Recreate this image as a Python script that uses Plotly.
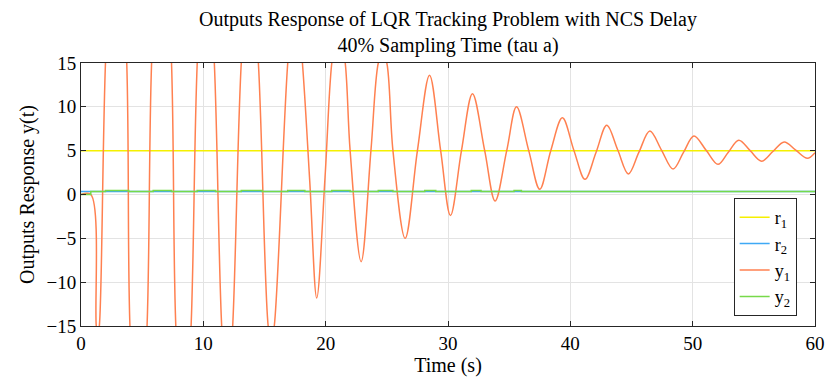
import plotly.graph_objects as go

# ---- data ----
t_ref = [0, 60]
r1 = [5, 5]
r2 = [0.35, 0.35]

t_y1 = [0, 0.8, 1.25, 1.38, 1.5, 2.0, 2.87, 3.74, 4.0, 4.7, 5.4, 5.77, 6.6, 7.4, 7.75,
        8.4, 9.0, 9.5, 10.2, 10.9, 11.5, 11.95, 12.4, 13.1, 13.8, 14.5, 15.3, 15.55,
        15.8, 16.9, 17.5, 18.1, 18.7, 19.27, 19.95, 20.5, 21.05, 21.6, 22.0, 22.9,
        23.7, 24.3, 24.65, 25.0, 25.5, 26.5, 27.5, 28.49, 29.4, 30.2, 31.1, 32.0,
        33.0, 33.85, 34.8, 35.6, 36.6, 37.5, 38.4, 39.35, 40.3, 41.2, 42.1, 42.98,
        43.87, 44.75, 45.6, 46.5, 47.45, 48.4, 49.25, 50.1, 51.1, 52.07, 52.9, 53.77,
        54.7, 55.64, 56.55, 57.48, 58.43, 59.38, 60]
y1 = [0, 0, -15, -16, -15, 15, 40, 15, -15, -33, -15, 15, 38, 15, -15,
      -30, -15, 15, 32, 15, -15, -24, -15, 15, 28, 15, -15, -17,
      -15, 15, 24, 15, 1.5, -11.8, 2, 15, 20, 15, 5, -7.66,
      5, 15, 16.3, 15, 5, -5.0, 5, 13.6, 5, -2.4, 5, 11.5,
      5, -0.74, 5, 10.0, 5, 0.6, 5, 8.75, 5, 1.73, 4.8, 7.9,
      5.1, 2.34, 4.8, 7.24, 5.07, 2.9, 4.8, 6.67, 5.05, 3.44, 4.8, 6.2,
      5.0, 3.8, 4.9, 6.0, 5.05, 4.13, 4.77]

t_y2 = [0, 0.8, 2.0, 3.9, 5.9, 7.4, 9.5, 11.0, 13.1, 14.8, 16.9, 18.3, 20.5, 22.0,
        24.3, 25.5, 28.1, 29.0, 31.9, 32.7, 35.4, 36.0, 60]
y2 = [0, 0.35, 0.47, 0.35, 0.47, 0.35, 0.47, 0.35, 0.47, 0.35, 0.47, 0.35, 0.47, 0.35,
      0.47, 0.35, 0.47, 0.35, 0.47, 0.35, 0.47, 0.35, 0.35]

x_ticks = [0, 10, 20, 30, 40, 50, 60]
y_ticks = [-15, -10, -5, 0, 5, 10, 15]

FONT = "Liberation Serif"
L, R, T, B = 81, 10, 63, 52
W, H = 825, 378

fig = go.Figure()
fig.add_trace(go.Scatter(x=t_ref, y=r1, mode="lines", name="r<sub>1</sub>",
                         line=dict(color="#F5F000", width=1.5)))
fig.add_trace(go.Scatter(x=t_ref, y=r2, mode="lines", name="r<sub>2</sub>",
                         line=dict(color="#3FA9F5", width=1.5)))
fig.add_trace(go.Scatter(x=t_y1, y=y1, mode="lines", name="y<sub>1</sub>",
                         line=dict(color="#FF8050", width=1.5, shape="spline", smoothing=1)))
fig.add_trace(go.Scatter(x=t_y2, y=y2, mode="lines", name="y<sub>2</sub>",
                         line=dict(color="#77D94A", width=1.5, shape="hv")))

axis_common = dict(showline=True, linecolor="#262626", linewidth=1, mirror="ticks",
                   ticks="inside", ticklen=5, tickcolor="#262626",
                   showgrid=True, gridcolor="#E3E3E3", gridwidth=1, zeroline=False,
                   ticklabeloverflow="allow", automargin=False,
                   tickfont=dict(family=FONT, size=19, color="black"))

fig.update_layout(
    width=W, height=H,
    margin=dict(l=L, r=R, t=T, b=B, autoexpand=False),
    paper_bgcolor="white", plot_bgcolor="white",
    font=dict(family=FONT, size=19, color="black"),
    title=dict(text="Outputs Response of LQR Tracking Problem with NCS Delay<br>40% Sampling Time (tau a)",
               x=(L + 0.5 * (W - L - R)) / W, xanchor="center", y=1 - 26 / H, yanchor="middle",
               font=dict(family=FONT, size=20, color="black")),
    xaxis=dict(range=[0, 60], tickvals=x_ticks,
               title=dict(text="Time (s)", font=dict(family=FONT, size=20, color="black"), standoff=0),
               **axis_common),
    yaxis=dict(range=[-15, 15], tickvals=y_ticks,
               title=dict(text="Outputs Response y(t)", font=dict(family=FONT, size=20, color="black"), standoff=6),
               **axis_common),
    legend=dict(x=0.975, xanchor="right", y=0.038, yanchor="bottom",
                bgcolor="white", bordercolor="#262626", borderwidth=1,
                font=dict(family=FONT, size=18, color="black"),
                itemwidth=30, tracegroupgap=0),
    showlegend=True,
)

fig.write_html("out.html", config={"displayModeBar": False},
               post_script="document.body.style.margin='0';document.body.style.padding='0';")
